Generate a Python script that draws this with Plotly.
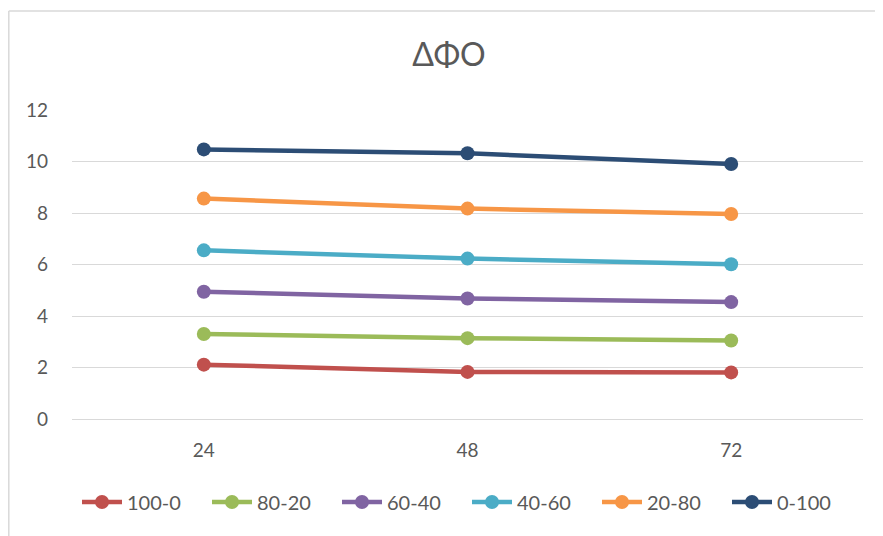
import plotly.graph_objects as go

categories = ["24", "48", "72"]
series_names = ["100-0", "80-20", "60-40", "40-60", "20-80", "0-100"]
s_100_0 = [2.11, 1.83, 1.81]
s_80_20 = [3.30, 3.14, 3.05]
s_60_40 = [4.94, 4.68, 4.54]
s_40_60 = [6.55, 6.23, 6.01]
s_20_80 = [8.56, 8.17, 7.96]
s_0_100 = [10.47, 10.32, 9.90]
y_ticks = [0, 2, 4, 6, 8, 10, 12]

values = [s_100_0, s_80_20, s_60_40, s_40_60, s_20_80, s_0_100]
colors = ["#C0504D", "#9BBB59", "#8064A2", "#4BACC6", "#F79646", "#2C4D75"]

fig = go.Figure()
for name, vals, col in zip(series_names, values, colors):
    fig.add_trace(go.Scatter(
        x=categories, y=vals, name=name, mode="lines+markers",
        line=dict(color=col, width=4.5),
        marker=dict(color=col, size=14),
    ))

# page body has an 8px margin; figure coordinates are shifted accordingly
L, T, R, B = 64, 102, 28, 125
PW = 883 - L - R
PH = 536 - T - B

font_fam = "Lato, 'Open Sans', sans-serif"
fig.update_layout(
    width=883, height=536,
    margin=dict(l=L, r=R, t=T, b=B, autoexpand=False),
    paper_bgcolor="white", plot_bgcolor="white",
    title=dict(text="ΔΦΟ", x=(441 - L) / PW, xref="paper", xanchor="center",
               y=1 - 47 / 536, yref="container", yanchor="middle",
               font=dict(family=font_fam, size=32, color="#595959")),
    font=dict(family=font_fam, size=19, color="#595959"),
    xaxis=dict(type="category", range=[-0.5, 2.5], showgrid=False,
               showline=False, zeroline=False, ticks="", automargin=False,
               ticklabelstandoff=18,
               tickfont=dict(size=19, color="#595959")),
    yaxis=dict(range=[0, 12], tickvals=y_ticks, showgrid=True,
               gridcolor="#D9D9D9", gridwidth=1.3, zeroline=True,
               zerolinecolor="#D9D9D9", zerolinewidth=1.3,
               showline=False, ticks="", ticklabelstandoff=23,
               automargin=False,
               tickfont=dict(size=19, color="#595959")),
    legend=dict(orientation="h", x=(459 - L) / PW, xref="paper",
                xanchor="center",
                y=1 - 494 / 536, yref="container", yanchor="middle",
                font=dict(size=20, color="#595959"),
                itemwidth=40, tracegroupgap=0,
                entrywidth=75, entrywidthmode="pixels"),
    showlegend=True,
)
# chart border (left and top edges visible)
fig.add_shape(type="line", xref="paper", yref="paper",
              x0=(0.8 - L) / PW, x1=(0.8 - L) / PW,
              y0=-1, y1=(536 - B - 3) / PH,
              line=dict(color="#D9D9D9", width=1.5))
fig.add_shape(type="line", xref="paper", yref="paper",
              x0=(0.8 - L) / PW, x1=2,
              y0=(536 - B - 3) / PH, y1=(536 - B - 3) / PH,
              line=dict(color="#D9D9D9", width=1.5))

fig.write_html("out.html")
